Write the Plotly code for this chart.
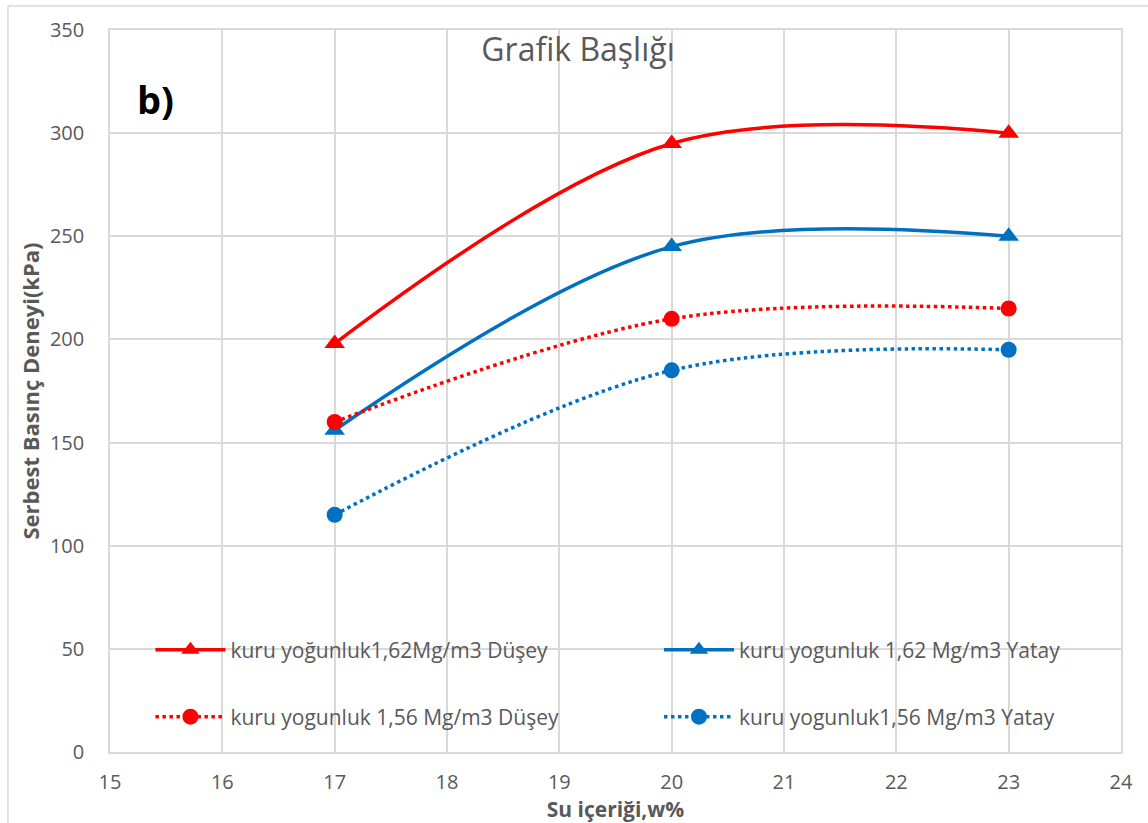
import plotly.graph_objects as go

x_vals = [17, 20, 23]
red_solid = [198, 295, 300]
blue_solid = [156, 245, 250]
red_dot = [160, 210, 215]
blue_dot = [115, 185, 195]

names = [
    "kuru yoğunluk1,62Mg/m3 Düşey",
    "kuru yogunluk 1,62 Mg/m3 Yatay",
    "kuru yogunluk 1,56 Mg/m3 Düşey",
    "kuru yogunluk1,56 Mg/m3 Yatay",
]

RED = "#FF0000"
BLUE = "#0070C0"
GRID = "#D9D9D9"
TXT = "#595959"
FONT = "Open Sans"

fig = go.Figure()
series = [
    (red_solid, names[0], RED, "solid", "triangle-up", "legend"),
    (blue_solid, names[1], BLUE, "solid", "triangle-up", "legend2"),
    (red_dot, names[2], RED, "dot", "circle", "legend3"),
    (blue_dot, names[3], BLUE, "dot", "circle", "legend4"),
]
for ys, nm, col, dash, sym, lg in series:
    fig.add_trace(go.Scatter(
        x=x_vals, y=ys, name=nm, mode="lines+markers",
        line=dict(color=col, width=3.5, dash=dash, shape="spline", smoothing=1.0),
        marker=dict(color=col, size=16 if sym == "circle" else 18, symbol=sym),
        legend=lg,
    ))

leg_common = dict(
    font=dict(family=FONT, size=21, color=TXT),
    bgcolor="rgba(0,0,0,0)", itemwidth=70, yanchor="middle", xanchor="left",
)
fig.update_layout(
    width=1148, height=823,
    margin=dict(l=110, r=27, t=30, b=71),
    paper_bgcolor="white", plot_bgcolor="white",
    font=dict(family=FONT, color=TXT),
    title=dict(text="Grafik Başlığı", x=0.5035, xanchor="center", y=0.94, yanchor="middle",
               font=dict(family=FONT, size=32, color=TXT)),
    xaxis=dict(range=[15, 24], dtick=1, showgrid=True, gridcolor=GRID, gridwidth=1.5,
               showline=True, linecolor=GRID, linewidth=1.5, mirror=True, zeroline=False,
               automargin=False,
               tickfont=dict(family=FONT, size=20, color=TXT),
               ticks="outside", ticklen=11, tickcolor="rgba(0,0,0,0)",
               title=dict(text="<b>Su içeriği,w%</b>", standoff=3,
                          font=dict(family=FONT, size=21, color=TXT))),
    yaxis=dict(range=[0, 350], dtick=50, showgrid=True, gridcolor=GRID, gridwidth=1.5,
               showline=True, linecolor=GRID, linewidth=1.5, mirror=True, zeroline=False,
               automargin=False,
               tickfont=dict(family=FONT, size=20, color=TXT),
               ticks="outside", ticklen=20, tickcolor="rgba(0,0,0,0)",
               title=dict(text="<b>Serbest Basınç Deneyi(kPa)</b>", standoff=4,
                          font=dict(family=FONT, size=22, color=TXT))),
    legend=dict(x=0.040, y=0.1413, **leg_common),
    legend2=dict(x=0.543, y=0.1413, **leg_common),
    legend3=dict(x=0.040, y=0.0485, **leg_common),
    legend4=dict(x=0.543, y=0.0485, **leg_common),
    showlegend=True,
    annotations=[dict(text="<b>b)</b>", x=0.025, y=0.905, xref="paper", yref="paper",
                      xanchor="left", yanchor="middle", showarrow=False,
                      font=dict(family=FONT, size=38, color="black"))],
    shapes=[dict(type="rect", xref="paper", yref="paper",
                 x0=-0.1009, x1=1.05, y0=-0.2, y1=1.0332,
                 line=dict(color=GRID, width=1.5), fillcolor="rgba(0,0,0,0)", layer="below")],
)

fig.write_html("out.html")
